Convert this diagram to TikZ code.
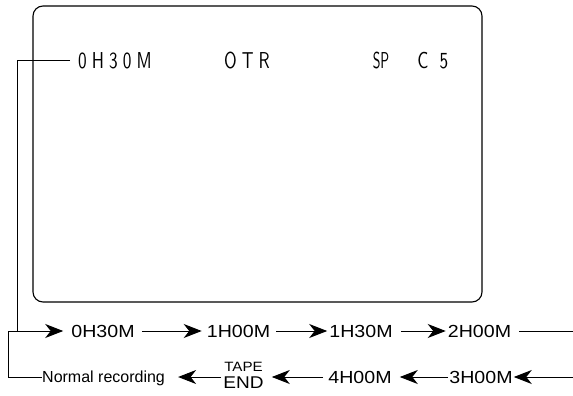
\documentclass[tikz,border=0pt]{standalone}
\usepackage{fontspec}
\setmainfont{Liberation Sans}
\newfontfamily\lcdfont{lmsans10-regular.otf}[FakeStretch=0.75,LetterSpace=22]
\newfontfamily\lcdtight{lmsans10-regular.otf}[FakeStretch=0.6]
\newfontfamily\widefont{Liberation Sans}[FakeStretch=1.12]
\usepackage{tikz}
\usetikzlibrary{arrows.meta}

\begin{document}
\begin{tikzpicture}[x=1pt, y=-1pt, screen/.style={draw, line width=1.1pt, rounded corners=10pt}, lcd/.style={inner sep=0pt, font=\lcdfont\fontsize{23}{23}\selectfont}, lbl/.style={inner sep=0pt, font=\widefont\fontsize{17.5}{17.5}\selectfont}, note/.style={inner sep=0pt, text depth=0pt, font=\fontsize{16}{16}\selectfont}, flow/.style={line width=1pt, -{Stealth[length=18pt, width=14pt, inset=5.5pt]}}, wire/.style={line width=1pt}]
\useasboundingbox (0,0) rectangle (573,396);
\draw[screen] (33,6) rectangle (482,302);
% screen readout
\node[lcd, anchor=west] (lcdtime) at (78,61) {0H30M};
\node[lcd]  (lcdotr) at (247,61) {OTR};
\node[lcd, font=\lcdtight\fontsize{23}{23}\selectfont]  (lcdsp) at (381,61) {SP};
\node[lcd]  (lcdc)   at (423,61) {C};
\node[lcd]  (lcdch)  at (444,61) {5};
% timer steps
\node[lbl]  (t030) at (103,331) {0H30M};
\node[lbl]  (t100) at (238.5,331) {1H00M};
\node[lbl]  (t130) at (361,331) {1H30M};
\node[lbl]  (t200) at (479.5,331) {2H00M};
\node[lbl]  (t300) at (481,377) {3H00M};
\node[lbl]  (t400) at (360,377) {4H00M};
\node[inner sep=0pt, align=center, font=\widefont\fontsize{17}{17}\selectfont] (tapeend) at (243.5,375) {{\fontsize{13.5}{17}\selectfont TAPE}\\END};
\node[note, anchor=west] (normal) at (42,377) {Normal recording};
\coordinate (drop)  at (17,331);
\coordinate (loop)  at (8,331);
\coordinate (edge1) at (573,331);
\coordinate (edge2) at (573,377);
\draw[wire]([xshift=-8pt]lcdtime.west) -| (drop); \draw[flow](loop) -- ([xshift=-8pt]t030.west);
\draw[flow]([xshift=7pt]t030.east) -- ([xshift=-5pt]t100.west); \draw[flow]([xshift=6pt]t100.east) -- ([xshift=-2pt]t130.west); \draw[flow]([xshift=8pt]t130.east) -- ([xshift=-2pt]t200.west); \draw[wire]([xshift=8pt]t200.east) -- (edge1);
\draw[flow](edge2) -- ([xshift=1pt]t300.east); \draw[flow]([xshift=-1pt]t300.west) -- ([xshift=8pt]t400.east); \draw[flow]([xshift=-5pt]t400.west) -- ([xshift=8pt]tapeend.east |- t400.west); \draw[flow]([xshift=-2pt]tapeend.west |- t400.west) -- ([xshift=13pt]normal.east); \draw[wire](normal.west) -| (loop);
\end{tikzpicture}
\end{document}
